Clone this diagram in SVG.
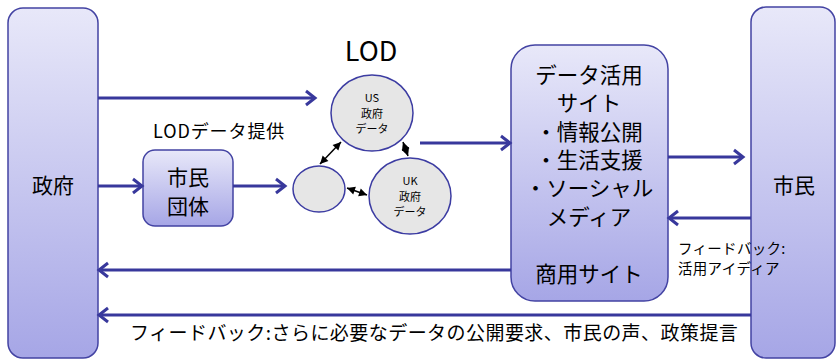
<svg xmlns="http://www.w3.org/2000/svg" width="836" height="360" viewBox="0 0 836 360">
<defs>
<linearGradient id="g" x1="0" y1="0" x2="0" y2="1">
<stop offset="0" stop-color="#e8e8f9"/>
<stop offset="1" stop-color="#a6a6e6"/>
</linearGradient>
<marker id="ah" markerUnits="userSpaceOnUse" markerWidth="14" markerHeight="18" refX="11" refY="8" orient="auto" overflow="visible">
<path d="M2,1 L11,8 L2,15" fill="none" stroke="#38389c" stroke-width="3"/>
</marker>
<marker id="bk" markerUnits="userSpaceOnUse" markerWidth="10" markerHeight="10" refX="8" refY="4" orient="auto-start-reverse" overflow="visible">
<path d="M0,0 L8,4 L0,8 Z" fill="#000"/>
</marker>
</defs>
<style>
.box{fill:url(#g);stroke:#4343a3;stroke-width:1.5}
.cir{fill:#e6e6e6;stroke:#3c3ca2;stroke-width:1.5}
.t{font-family:"Noto Sans CJK JP","Noto Sans",sans-serif;fill:#000}
.c{text-anchor:middle}
.arr{stroke:#38389c;stroke-width:3;fill:none;marker-end:url(#ah)}
.dbl{stroke:#000;stroke-width:1.5;fill:none;marker-start:url(#bk);marker-end:url(#bk)}
</style>

<g id="gov">
<rect class="box" x="8" y="8" width="90" height="350" rx="15"/>
<text class="t c" x="53" y="193" font-size="21">政府</text>
</g>

<g id="citizen">
<rect class="box" x="751" y="7" width="84" height="351" rx="15"/>
<text class="t c" x="794" y="193" font-size="21">市民</text>
</g>

<g id="civic">
<rect class="box" x="143" y="150" width="90" height="76" rx="12"/>
<text class="t c" x="188" y="185" font-size="21">市民</text>
<text class="t c" x="188" y="214" font-size="21">団体</text>
</g>

<g id="site">
<rect class="box" x="511" y="45" width="157" height="256" rx="24"/>
<text class="t c" x="589" y="83" font-size="21.5">データ活用</text>
<text class="t c" x="589" y="111" font-size="21.5">サイト</text>
<text class="t c" x="589" y="140" font-size="21.5">・情報公開</text>
<text class="t c" x="589" y="168" font-size="21.5">・生活支援</text>
<text class="t c" x="589" y="196" font-size="21.5">・ソーシャル</text>
<text class="t c" x="589" y="225" font-size="21.5">メディア</text>
<text class="t c" x="589" y="282" font-size="21.5">商用サイト</text>
</g>

<g id="lod">
<text class="t c" x="371" y="61" font-size="27">LOD</text>
</g>

<g id="us">
<ellipse class="cir" cx="372" cy="113" rx="41" ry="38"/>
<text class="t c" x="372" y="102" font-size="11">US</text>
<text class="t c" x="372" y="118" font-size="11">政府</text>
<text class="t c" x="372" y="133" font-size="11">データ</text>
</g>

<g id="other">
<ellipse class="cir" cx="319" cy="189" rx="26" ry="23"/>
</g>

<g id="uk">
<ellipse class="cir" cx="410" cy="196" rx="41" ry="38"/>
<text class="t c" x="410" y="185" font-size="11">UK</text>
<text class="t c" x="410" y="201" font-size="11">政府</text>
<text class="t c" x="410" y="216" font-size="11">データ</text>
</g>

<g id="labels">
<text class="t" x="153" y="138" font-size="18" letter-spacing="0.9">LODデータ提供</text>
<text class="t" x="678" y="254" font-size="14.5" letter-spacing="0.3">フィードバック:</text>
<text class="t" x="678" y="274" font-size="14.5" letter-spacing="0.3">活用アイディア</text>
<text class="t" x="130" y="340" font-size="19" letter-spacing="0.45">フィードバック:さらに必要なデータの公開要求、市民の声、政策提言</text>
</g>

<g id="connectors">
<line class="arr" x1="98" y1="98" x2="315" y2="98"/>
<line class="arr" x1="98" y1="186" x2="142" y2="186"/>
<line class="arr" x1="233" y1="186" x2="285" y2="186"/>
<line class="arr" x1="420" y1="143" x2="510" y2="143"/>
<line class="arr" x1="668" y1="157" x2="743" y2="157"/>
<line class="arr" x1="751" y1="218" x2="669" y2="218"/>
<line class="arr" x1="511" y1="270" x2="99" y2="270"/>
<line class="arr" x1="751" y1="315" x2="99" y2="315"/>
<line class="dbl" x1="320" y1="164" x2="341" y2="142"/>
<line class="dbl" x1="403" y1="142" x2="408" y2="156"/>
<line class="dbl" x1="347" y1="188" x2="367" y2="195"/>
</g>
</svg>
